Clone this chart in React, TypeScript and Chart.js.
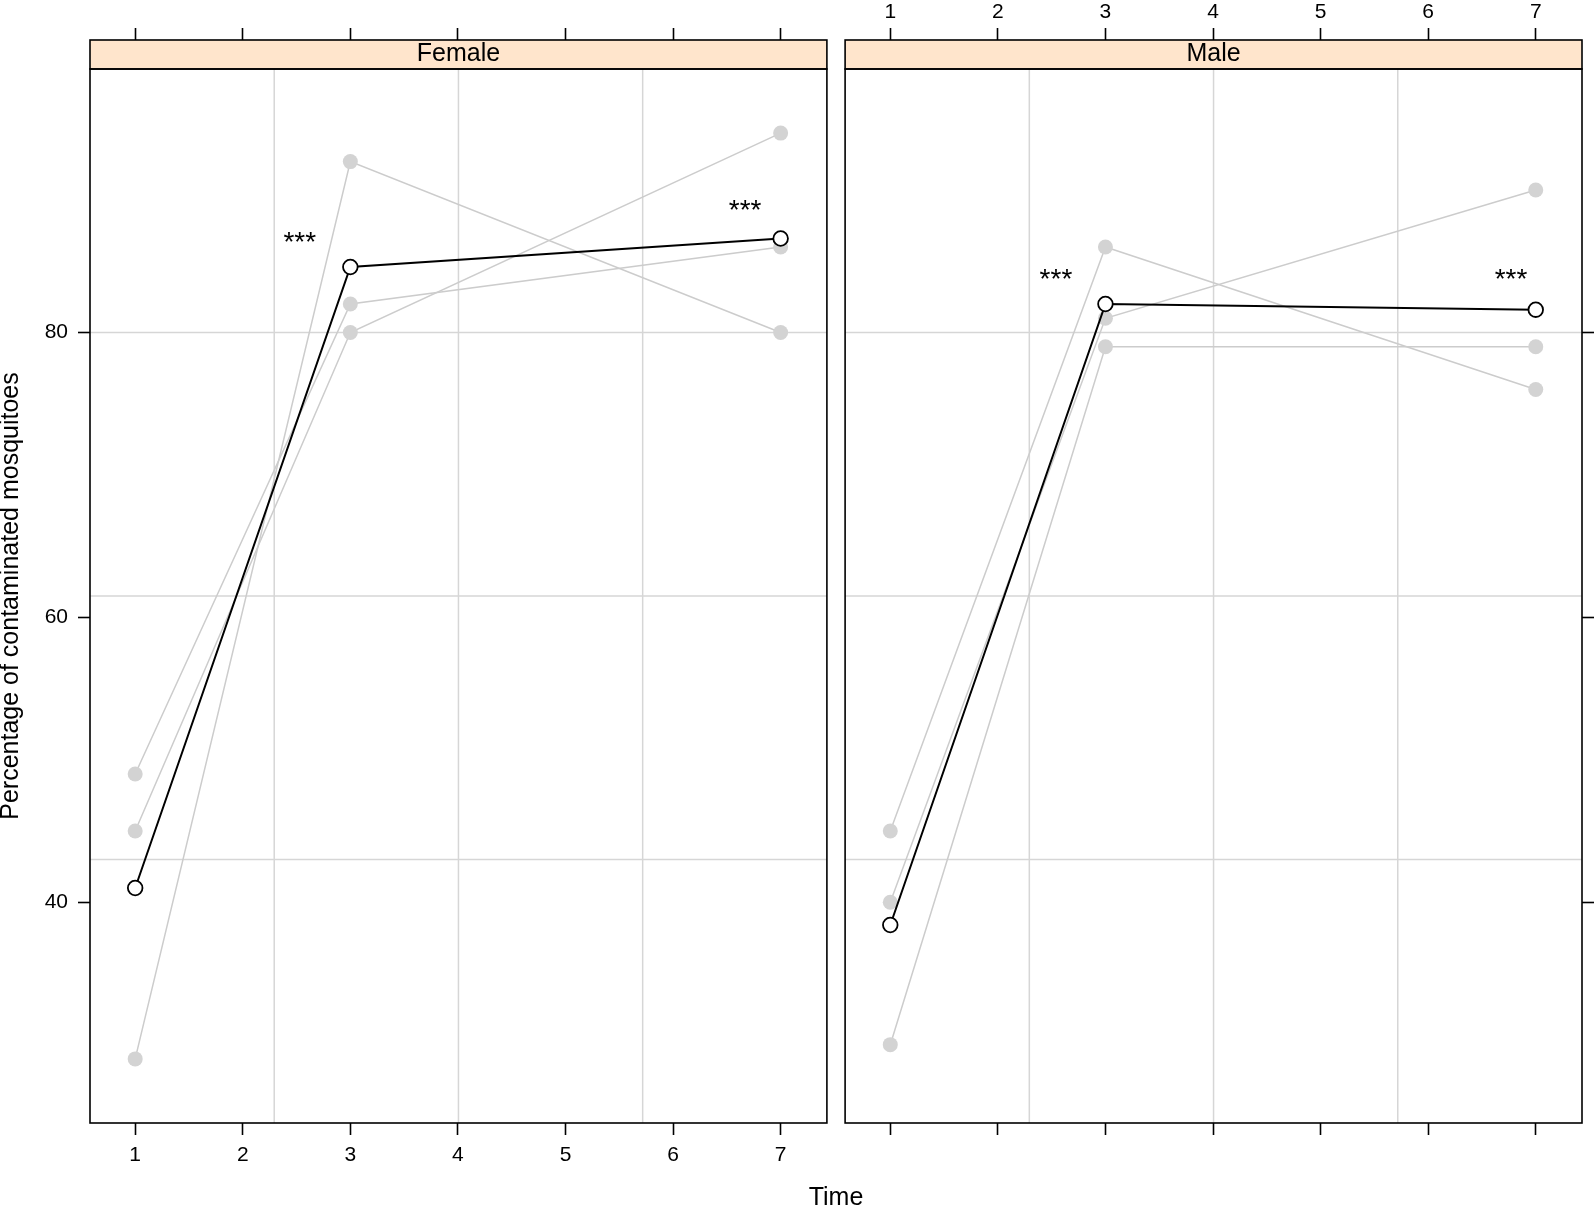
import React, { useEffect, useRef } from "react";
import { Chart, registerables } from "chart.js";

Chart.register(...registerables);

// ---------- data ----------
const TIMES = [1, 3, 7];
const X_TICKS = [1, 2, 3, 4, 5, 6, 7];
const Y_TICKS = [40, 60, 80];
const X_MIN = 0.58;
const X_MAX = 7.43;
const Y_MIN = 24.5;
const Y_MAX = 98.5;

const femaleRep1 = [49, 82, 86];
const femaleRep2 = [45, 80, 94];
const femaleRep3 = [29, 92, 80];
const femaleMean = [41.0, 84.6, 86.6];

const maleRep1 = [45, 86, 76];
const maleRep2 = [40, 81, 90];
const maleRep3 = [30, 79, 79];
const maleMean = [38.4, 82.0, 81.6];

const femaleStarX = [2.53, 6.67];
const femaleStarY = [86.6, 88.9];
const maleStarX = [2.54, 6.77];
const maleStarY = [84.0, 84.0];
const STAR_LABEL = "***";

const PANEL_FEMALE = "Female";
const PANEL_MALE = "Male";
const X_TITLE = "Time";
const Y_TITLE = "Percentage of contaminated mosquitoes";

// ---------- styles ----------
const FONT = '"Liberation Sans", Arial, Helvetica, sans-serif';
const GRAY_LINE = "#cccccc";
const GRAY_PT = "#d3d3d3";
const GRID = "#d6d6d6";
const STRIP = "#ffe5cc";
const H = 1205;

Chart.defaults.font.family = FONT;
Chart.defaults.color = "#000";

function makeDatasets(reps: number[][], mean: number[]) {
  const gray = reps.map((r, i) => ({
    label: "rep" + (i + 1),
    data: TIMES.map((t, j) => ({ x: t, y: r[j] })),
    showLine: true,
    borderColor: GRAY_LINE,
    borderWidth: 1.5,
    pointRadius: 7.5,
    pointBackgroundColor: GRAY_PT,
    pointBorderColor: GRAY_PT,
    pointBorderWidth: 0,
    xAxisID: "x",
    yAxisID: "y",
    order: 2,
  }));
  const m = {
    label: "mean",
    data: TIMES.map((t, j) => ({ x: t, y: mean[j] })),
    showLine: true,
    borderColor: "#000",
    borderWidth: 2,
    pointRadius: 7.3,
    pointBackgroundColor: "#fff",
    pointBorderColor: "#000",
    pointBorderWidth: 1.8,
    xAxisID: "x",
    yAxisID: "y",
    order: 1,
  };
  return [...gray, m];
}

function decorPlugin(starX: number[], starY: number[]) {
  return {
    id: "panelDecor",
    beforeDraw(chart: any) {
      const { ctx, chartArea } = chart;
      const tb = chart.titleBlock;
      ctx.save();
      ctx.fillStyle = STRIP;
      ctx.fillRect(chartArea.left, tb.top, chartArea.right - chartArea.left, tb.bottom - tb.top);
      ctx.restore();
    },
    beforeDatasetsDraw(chart: any) {
      const { ctx } = chart;
      const xs = chart.scales.x;
      const ys = chart.scales.y;
      ctx.save();
      ctx.strokeStyle = GRID;
      ctx.lineWidth = 1.5;
      for (let k = 1; k < 4; k++) {
        const px = xs.getPixelForValue(X_MIN + ((X_MAX - X_MIN) * k) / 4);
        ctx.beginPath();
        ctx.moveTo(px, chart.chartArea.top);
        ctx.lineTo(px, chart.chartArea.bottom);
        ctx.stroke();
        const py = ys.getPixelForValue(Y_MIN + ((Y_MAX - Y_MIN) * k) / 4);
        ctx.beginPath();
        ctx.moveTo(chart.chartArea.left, py);
        ctx.lineTo(chart.chartArea.right, py);
        ctx.stroke();
      }
      ctx.restore();
    },
    afterDatasetsDraw(chart: any) {
      const { ctx } = chart;
      const xs = chart.scales.x;
      const ys = chart.scales.y;
      const size = 28;
      ctx.save();
      ctx.fillStyle = "#000";
      ctx.font = size + "px " + FONT;
      ctx.textAlign = "center";
      ctx.textBaseline = "alphabetic";
      starX.forEach((sx, i) => {
        ctx.fillText(STAR_LABEL, xs.getPixelForValue(sx), ys.getPixelForValue(starY[i]) + 0.46 * size);
      });
      ctx.restore();
    },
    afterDraw(chart: any) {
      const { ctx, chartArea } = chart;
      const tb = chart.titleBlock;
      ctx.save();
      ctx.strokeStyle = "#000";
      ctx.lineWidth = 1.6;
      ctx.strokeRect(chartArea.left, chartArea.top, chartArea.right - chartArea.left, chartArea.bottom - chartArea.top);
      ctx.strokeRect(chartArea.left, tb.top, chartArea.right - chartArea.left, tb.bottom - tb.top);
      ctx.restore();
    },
  };
}

const tickGrid = {
  display: true,
  drawOnChartArea: false,
  drawTicks: true,
  tickLength: 12,
  tickColor: "#000",
  tickWidth: 1.6,
};

function xScale(position: string, showLabels: boolean, size: number, pad: number) {
  return {
    type: "linear",
    position,
    min: X_MIN,
    max: X_MAX,
    afterBuildTicks: (s: any) => {
      s.ticks = X_TICKS.map((v) => ({ value: v }));
    },
    ticks: { display: showLabels, font: { size: 21 }, padding: pad, autoSkip: false, maxRotation: 0, color: "#000" },
    grid: tickGrid,
    border: { display: false },
    afterFit: (s: any) => {
      s.height = size;
    },
  };
}

function yScale(position: string, showLabels: boolean, width: number, withTitle: boolean) {
  return {
    type: "linear",
    position,
    min: Y_MIN,
    max: Y_MAX,
    afterBuildTicks: (s: any) => {
      s.ticks = Y_TICKS.map((v) => ({ value: v }));
    },
    ticks: { display: showLabels, font: { size: 21 }, padding: 10, color: "#000" },
    grid: tickGrid,
    border: { display: false },
    title: {
      display: withTitle,
      text: Y_TITLE,
      font: { size: 25, lineHeight: 0.9 },
      padding: 0,
      color: "#000",
    },
    afterFit: (s: any) => {
      s.width = width;
    },
  };
}

function makeConfig(
  panel: string,
  reps: number[][],
  mean: number[],
  starX: number[],
  starY: number[],
  isLeft: boolean
): any {
  return {
    type: "scatter",
    data: { datasets: makeDatasets(reps, mean) },
    options: {
      animation: false,
      responsive: false,
      devicePixelRatio: 1,
      events: [],
      layout: { padding: isLeft ? { left: 0, right: 6, top: 0, bottom: 0 } : { left: 6, right: 0, top: 0, bottom: 0 } },
      scales: {
        x: xScale("bottom", isLeft, 82, 8),
        x2: xScale("top", !isLeft, 40, 3),
        y: isLeft ? yScale("left", true, 90, true) : yScale("right", false, 13, false),
      },
      plugins: {
        legend: { display: false },
        tooltip: { enabled: false },
        title: {
          display: true,
          text: panel,
          position: "top",
          fullSize: false,
          weight: -1,
          color: "#000",
          font: { size: 25, weight: "normal", lineHeight: 1 },
          padding: { top: 2, bottom: 2 },
        },
      },
    },
    plugins: [decorPlugin(starX, starY)],
  };
}

function Panel(props: { left: number; width: number; build: () => any }) {
  const ref = useRef<HTMLCanvasElement | null>(null);
  useEffect(() => {
    if (!ref.current) return;
    const chart = new Chart(ref.current, props.build());
    return () => chart.destroy();
  }, []);
  return (
    <canvas
      ref={ref}
      width={props.width}
      height={H}
      style={{ position: "absolute", left: props.left, top: 0, width: props.width, height: H, display: "block" }}
    />
  );
}

export default function App() {
  return (
    <div style={{ position: "absolute", left: 0, top: 0, width: 1595, height: H, background: "#fff", overflow: "hidden" }}>
      <Panel
        left={0}
        width={836}
        build={() => makeConfig(PANEL_FEMALE, [femaleRep1, femaleRep2, femaleRep3], femaleMean, femaleStarX, femaleStarY, true)}
      />
      <Panel
        left={836}
        width={759}
        build={() => makeConfig(PANEL_MALE, [maleRep1, maleRep2, maleRep3], maleMean, maleStarX, maleStarY, false)}
      />
      <div
        style={{
          position: "absolute",
          left: 736,
          width: 200,
          top: 1184,
          textAlign: "center",
          fontFamily: FONT,
          fontSize: 25,
          lineHeight: "25px",
          color: "#000",
        }}
      >
        {X_TITLE}
      </div>
    </div>
  );
}
